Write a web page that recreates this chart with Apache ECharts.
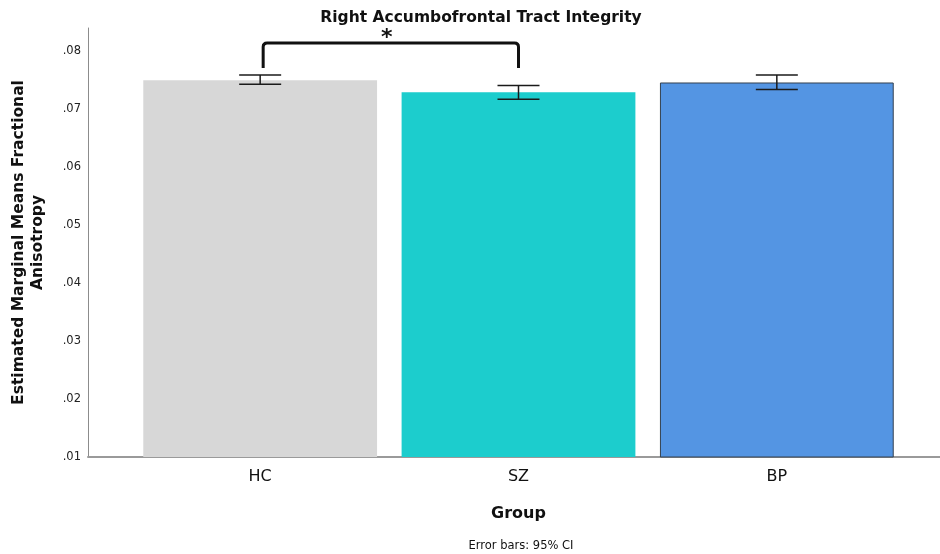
<!DOCTYPE html>
<html>
<head>
<meta charset="utf-8">
<script src="https://cdn.jsdelivr.net/npm/echarts@6/dist/echarts.min.js"></script>
<style>
  html, body { margin: 0; padding: 0; background: #fff; }
  #chart { width: 940px; height: 554px; }
</style>
</head>
<body>
<div id="chart"></div>
<script>
// Groups and estimated marginal means of fractional anisotropy
const groups = ['HC', 'SZ', 'BP'];
const means = [0.0750, 0.0729, 0.0746];
const ciLower = [0.0743, 0.0717, 0.0734];
const ciUpper = [0.0759, 0.0741, 0.0759];
const barColors = ['#d7d7d7', '#1ccdcd', '#5495e3'];
const barBorders = [null, null, '#34404f'];
const yTicks = { min: 0.01, max: 0.084, interval: 0.01 };
// Significance bracket between HC and SZ
const bracket = { from: 0, to: 1, top: 0.0814, legEnd: 0.0771, mark: '*' };

const FONT = 'DejaVu Sans';
const chart = echarts.init(document.getElementById('chart'));

const fmtTick = v => v.toFixed(2).replace(/^0/, '');

chart.setOption({
  animation: false,
  textStyle: { fontFamily: FONT },
  title: [
    {
      text: 'Right Accumbofrontal Tract Integrity',
      left: 476, top: 5, textAlign: 'center',
      textStyle: { fontFamily: FONT, fontSize: 15.5, fontWeight: 'bold', color: '#111' }
    },
    {
      text: 'Error bars: 95% CI',
      left: 516, top: 535, textAlign: 'center',
      textStyle: { fontFamily: FONT, fontSize: 11.5, fontWeight: 'normal', color: '#111' }
    }
  ],
  grid: [
    { left: 88, right: 0, top: 28, bottom: 97 },
    { left: 131, right: 34, top: 28, bottom: 97 }
  ],
  xAxis: [
    {
      gridIndex: 0, type: 'value', min: 0, max: 1,
      axisLine: { show: true, lineStyle: { color: '#9a9a9a', width: 2 } },
      axisTick: { show: false }, axisLabel: { show: false }, splitLine: { show: false }
    },
    {
      gridIndex: 1, type: 'category', data: groups,
      axisLine: { show: false }, axisTick: { show: false }, splitLine: { show: false },
      axisLabel: { margin: 12, fontSize: 16, color: '#111', fontFamily: FONT },
      name: 'Group', nameLocation: 'middle', nameGap: 49,
      nameTextStyle: { fontSize: 16, fontWeight: 'bold', color: '#111', fontFamily: FONT }
    }
  ],
  yAxis: [
    {
      gridIndex: 0, type: 'value',
      min: yTicks.min, max: yTicks.max, interval: yTicks.interval,
      axisLine: { show: true, lineStyle: { color: '#8c8c8c', width: 1 } },
      axisTick: { show: false }, splitLine: { show: false },
      axisLabel: { margin: 7, fontSize: 11.5, color: '#222', formatter: fmtTick, showMaxLabel: false },
      name: 'Estimated Marginal Means Fractional\nAnisotropy',
      nameLocation: 'middle', nameRotate: 90, nameGap: 41,
      nameTextStyle: { fontSize: 15.5, fontWeight: 'bold', color: '#111', lineHeight: 19, fontFamily: FONT }
    },
    {
      gridIndex: 1, type: 'value', show: false,
      min: yTicks.min, max: yTicks.max, interval: yTicks.interval
    }
  ],
  series: [
    {
      type: 'bar', xAxisIndex: 1, yAxisIndex: 1,
      barWidth: '90.5%',
      data: means.map((v, i) => ({
        value: v,
        itemStyle: {
          color: barColors[i],
          borderColor: barBorders[i] || barColors[i],
          borderWidth: barBorders[i] ? 1 : 0
        }
      })),
      z: 2
    },
    {
      // 95% confidence interval whiskers
      type: 'custom', xAxisIndex: 1, yAxisIndex: 1, z: 5,
      data: groups.map((g, i) => [i, ciLower[i], ciUpper[i]]),
      renderItem: (params, api) => {
        const hi = api.coord([api.value(0), api.value(2)]);
        const lo = api.coord([api.value(0), api.value(1)]);
        const hw = 21;
        const style = { stroke: '#1a1a1a', lineWidth: 1.5 };
        return {
          type: 'group',
          children: [
            { type: 'line', shape: { x1: hi[0], y1: hi[1], x2: lo[0], y2: lo[1] }, style },
            { type: 'line', shape: { x1: hi[0] - hw, y1: hi[1], x2: hi[0] + hw, y2: hi[1] }, style },
            { type: 'line', shape: { x1: lo[0] - hw, y1: lo[1], x2: lo[0] + hw, y2: lo[1] }, style }
          ]
        };
      }
    },
    {
      // significance bracket
      type: 'custom', xAxisIndex: 1, yAxisIndex: 1, z: 6,
      data: [[bracket.from, bracket.to, bracket.top, bracket.legEnd]],
      renderItem: (params, api) => {
        const a = api.coord([api.value(0), api.value(2)]);
        const b = api.coord([api.value(1), api.value(2)]);
        const yb = api.coord([api.value(0), api.value(3)])[1];
        const x0 = a[0] + 3, x1 = b[0], yt = a[1], r = 4;
        const d = `M${x0},${yb} L${x0},${yt + r} Q${x0},${yt} ${x0 + r},${yt} ` +
                  `L${x1 - r},${yt} Q${x1},${yt} ${x1},${yt + r} L${x1},${yb}`;
        return {
          type: 'group',
          children: [
            { type: 'path', shape: { pathData: d }, style: { stroke: '#111', lineWidth: 3, fill: null } },
            {
              type: 'text', x: (x0 + x1) / 2 - 4, y: yt + 6,
              style: { text: bracket.mark, fontSize: 22, fontWeight: 'bold', fill: '#111',
                       align: 'center', verticalAlign: 'bottom', fontFamily: FONT }
            }
          ]
        };
      }
    }
  ]
});
</script>
</body>
</html>
